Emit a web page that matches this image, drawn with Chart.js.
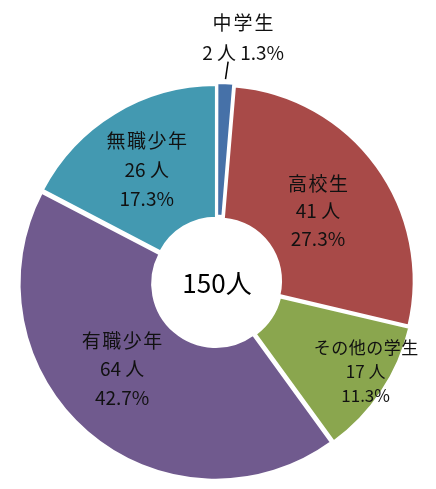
<!DOCTYPE html>
<html>
<head>
<meta charset="utf-8">
<script src="https://cdn.jsdelivr.net/npm/chart.js@4.4.1/dist/chart.umd.min.js"></script>
<style>
  html, body { margin: 0; padding: 0; background: #fff; }
  #wrap { width: 436px; height: 489px; position: relative; }
</style>
</head>
<body>
<div id="wrap"><canvas id="donut"></canvas></div>
<script>
// data
var categories = ['中学生', '高校生', 'その他の学生', '有職少年', '無職少年'];
var counts = [2, 41, 17, 64, 26];
var percents = ['1.3%', '27.3%', '11.3%', '42.7%', '17.3%'];
var totalLabel = '150人';

var colors = ['#4671A8', '#A84A48', '#8AA64E', '#705A8E', '#4399B1'];

// where each label sits: angle shift from the slice middle (deg), radius ratio, font size, line gap
var labelPlace = [
    { da: 3.7, r: 1.26, size: 19, gap: 30, outside: true },
    { da: 0.9, r: 0.633, size: 19, gap: 27.5 },
    { da: -2.5, r: 0.89, size: 17, gap: 24 },
    { da: 6.7, r: 0.66, size: 19, gap: 28.5 },
    { da: -0.8, r: 0.68, size: 19, gap: 29 }
];

var FONT = '"Noto Sans CJK JP", "Noto Sans", sans-serif';

var sliceLabels = {
    id: 'sliceLabels',
    afterDatasetsDraw: function(chart) {
        var ctx = chart.ctx;
        var meta = chart.getDatasetMeta(0);
        ctx.save();
        ctx.fillStyle = '#111';
        ctx.textAlign = 'center';
        ctx.textBaseline = 'middle';
        meta.data.forEach(function(arc, i) {
            var p = arc.getProps(['x', 'y', 'startAngle', 'endAngle', 'outerRadius'], true);
            var place = labelPlace[i];
            var mid = (p.startAngle + p.endAngle) / 2 + place.da * Math.PI / 180;
            var lx = p.x + Math.cos(mid) * p.outerRadius * place.r;
            var ly = p.y + Math.sin(mid) * p.outerRadius * place.r;
            ctx.font = place.size + 'px ' + FONT;
            if (place.outside) {
                ctx.letterSpacing = '2px';
                ctx.fillText(categories[i], lx + 1, ly - place.gap / 2);
                ctx.letterSpacing = '0px';
                ctx.fillText(counts[i] + ' 人 ' + percents[i], lx, ly + place.gap / 2);
                // leader line down to the thin slice
                var a0 = (p.startAngle + p.endAngle) / 2;
                ctx.strokeStyle = '#000';
                ctx.lineWidth = 1.5;
                ctx.beginPath();
                ctx.moveTo(lx - 15, ly + 24);
                ctx.lineTo(p.x + Math.cos(a0) * (p.outerRadius + 8), p.y + Math.sin(a0) * (p.outerRadius + 8));
                ctx.stroke();
            } else {
                ctx.letterSpacing = place.size > 18 ? '1.5px' : '0.5px';
                ctx.fillText(categories[i], lx + 0.7, ly - place.gap);
                ctx.letterSpacing = '0px';
                ctx.fillText(counts[i] + ' 人', lx, ly);
                ctx.fillText(percents[i], lx, ly + place.gap);
            }
        });
        // total in the hole
        var c = meta.data[0];
        ctx.font = '26px ' + FONT;
        ctx.fillStyle = '#000';
        ctx.fillText(totalLabel, c.x, c.y + 1);
        ctx.restore();
    }
};

var ctx = document.getElementById('donut').getContext('2d');

var myChart = new Chart(ctx, {
    type: 'doughnut',
    data: {
        labels: categories,
        datasets: [{
            data: counts,
            backgroundColor: colors,
            borderColor: '#fff',
            borderWidth: 2,
            offset: 8
        }]
    },
    options: {
        responsive: true,
        maintainAspectRatio: false,
        animation: false,
        cutout: '32%',
        layout: {
            padding: { left: 17, right: 19, top: 82, bottom: 7 }
        },
        plugins: {
            legend: { display: false },
            tooltip: { enabled: false }
        }
    },
    plugins: [sliceLabels]
});
</script>
</body>
</html>
